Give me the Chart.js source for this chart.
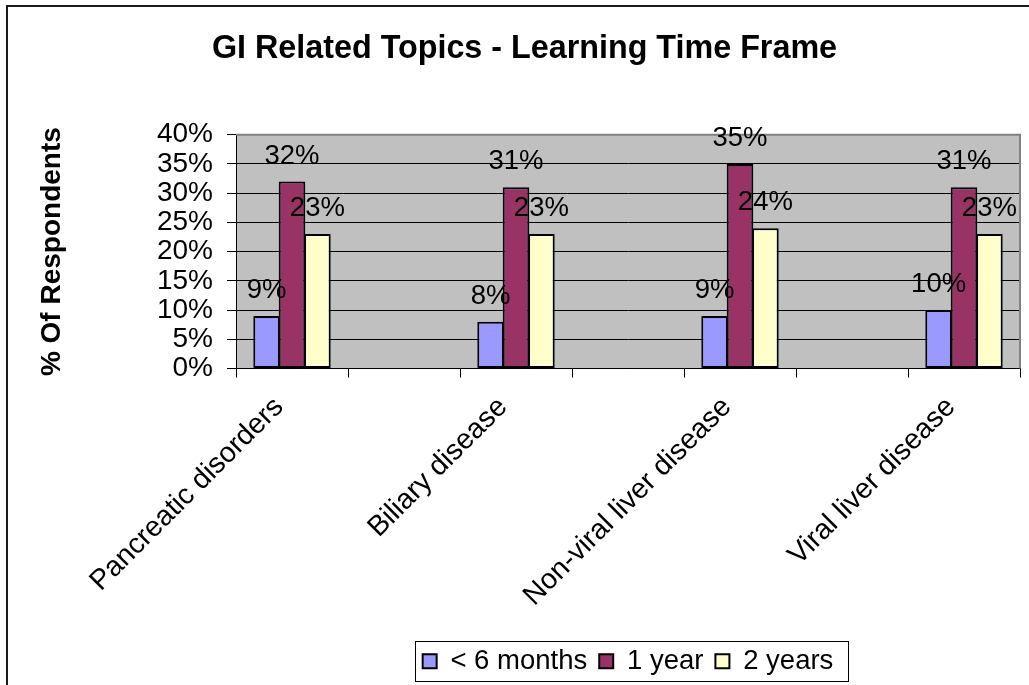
<!DOCTYPE html>
<html lang="en">
<head>
<meta charset="UTF-8">
<title>GI Related Topics - Learning Time Frame</title>
<script src="https://cdn.jsdelivr.net/npm/chart.js"></script>
<style>
    html, body {
        margin: 0;
        padding: 0;
        background: #ffffff;
    }
    .chart-box {
        width: 1029px;
        height: 685px;
    }
</style>
</head>
<body>
<div class="chart-box">
    <canvas id="giChart" width="1029" height="685"></canvas>
</div>
<script>
    // Topics (the blank slots keep the wide gaps between the groups)
    const topics = ['Pancreatic disorders', '', 'Biliary disease', '', 'Non-viral liver disease', '', 'Viral liver disease'];
    const underSixMonths = [9, null, 8, null, 9, null, 10];
    const oneYear = [32, null, 31, null, 35, null, 31];
    const twoYears = [23, null, 23, null, 24, null, 23];
    const seriesNames = ['< 6 months', '1 year', '2 years'];
    const yMin = 0, yMax = 40, yStep = 5;

    const FONT = "'Liberation Sans', Arial, Helvetica, sans-serif";
    Chart.defaults.font.family = FONT;
    Chart.defaults.color = '#000000';

    // grey plot area + outer frame
    const plotFrame = {
        id: 'plotFrame',
        beforeDraw(chart) {
            const { ctx, chartArea: a } = chart;
            ctx.save();
            ctx.fillStyle = '#ffffff';
            ctx.fillRect(0, 0, chart.width, chart.height);
            ctx.strokeStyle = '#1a1a1a';
            ctx.lineWidth = 2;
            ctx.strokeRect(7, 6, chart.width + 20, chart.height + 20);
            ctx.fillStyle = '#c0c0c0';
            ctx.fillRect(a.left, a.top, a.right - a.left, a.bottom - a.top);
            ctx.restore();
        },
        beforeDatasetsDraw(chart) {
            const { ctx, chartArea: a } = chart;
            ctx.save();
            ctx.strokeStyle = '#808080';
            ctx.lineWidth = 2;
            ctx.beginPath();
            ctx.moveTo(a.left, a.top);
            ctx.lineTo(a.right, a.top);
            ctx.lineTo(a.right, a.bottom);
            ctx.stroke();
            ctx.restore();
        }
    };

    // value labels above each bar
    const barValues = {
        id: 'barValues',
        afterDatasetsDraw(chart) {
            const { ctx } = chart;
            ctx.save();
            ctx.font = '27.5px ' + FONT;
            ctx.fillStyle = '#000000';
            ctx.textAlign = 'center';
            ctx.textBaseline = 'alphabetic';
            chart.data.datasets.forEach((ds, i) => {
                chart.getDatasetMeta(i).data.forEach((bar, j) => {
                    const v = ds.data[j];
                    if (v === null) return;
                    ctx.fillText(v + '%', bar.x, bar.y - 18);
                });
            });
            ctx.restore();
        }
    };

    // box around the legend
    const legendFrame = {
        id: 'legendFrame',
        afterDraw(chart) {
            const boxes = chart.legend && chart.legend.legendHitBoxes;
            if (!boxes || !boxes.length) return;
            let l = Infinity, r = -Infinity, t = Infinity, b = -Infinity;
            boxes.forEach(h => {
                l = Math.min(l, h.left);
                r = Math.max(r, h.left + h.width);
                t = Math.min(t, h.top);
                b = Math.max(b, h.top + h.height);
            });
            const { ctx } = chart;
            ctx.save();
            ctx.strokeStyle = '#000000';
            ctx.lineWidth = 1;
            ctx.strokeRect(Math.round(l - 8) + 0.5, Math.round(t - 7) + 0.5, Math.round(r - l + 22), Math.round(b - t + 12));
            ctx.restore();
        }
    };

    const barStyle = {
        borderColor: '#000000',
        borderWidth: 2,
        borderSkipped: false,
        categoryPercentage: 0.68,
        barPercentage: 1.05
    };

    new Chart(document.getElementById('giChart'), {
        type: 'bar',
        data: {
            labels: topics,
            datasets: [
                Object.assign({ label: seriesNames[0], data: underSixMonths, backgroundColor: '#9999ff' }, barStyle),
                Object.assign({ label: seriesNames[1], data: oneYear, backgroundColor: '#993366' }, barStyle),
                Object.assign({ label: seriesNames[2], data: twoYears, backgroundColor: '#ffffcc' }, barStyle)
            ]
        },
        options: {
            responsive: false,
            animation: false,
            devicePixelRatio: 1,
            layout: {
                padding: { left: 29, right: 9, top: 0, bottom: 0 }
            },
            plugins: {
                title: {
                    display: true,
                    text: 'GI Related Topics - Learning Time Frame',
                    color: '#000000',
                    font: { size: 32.3, weight: 'bold' },
                    padding: { top: 30, bottom: 66 }
                },
                legend: {
                    position: 'bottom',
                    fullSize: false,
                    labels: {
                        color: '#000000',
                        font: { size: 27.5 },
                        boxWidth: 14,
                        boxHeight: 14,
                        padding: 12
                    }
                },
                tooltip: { enabled: false }
            },
            scales: {
                x: {
                    grid: {
                        display: true,
                        drawOnChartArea: false,
                        drawTicks: true,
                        tickLength: 9,
                        color: '#000000',
                        offset: true
                    },
                    border: { display: true, color: '#000000', width: 1 },
                    ticks: {
                        autoSkip: false,
                        maxRotation: 45,
                        minRotation: 45,
                        padding: 13,
                        labelOffset: -13,
                        color: '#000000',
                        font: { size: 28.5 }
                    },
                    afterFit(scale) {
                        scale.height = 267;
                    }
                },
                y: {
                    min: yMin,
                    max: yMax,
                    grid: {
                        color: '#000000',
                        tickLength: 9,
                        lineWidth: 1
                    },
                    border: { display: true, color: '#000000', width: 1 },
                    ticks: {
                        stepSize: yStep,
                        autoSkip: false,
                        padding: 14,
                        color: '#000000',
                        font: { size: 28 },
                        callback: v => v + '%'
                    },
                    title: {
                        display: true,
                        text: '% Of Respondents',
                        color: '#000000',
                        font: { size: 28, weight: 'bold' },
                        padding: { top: 6, bottom: 0 }
                    },
                    afterFit(scale) {
                        scale.width = 207;
                    }
                }
            }
        },
        plugins: [plotFrame, barValues, legendFrame]
    });
</script>
</body>
</html>
